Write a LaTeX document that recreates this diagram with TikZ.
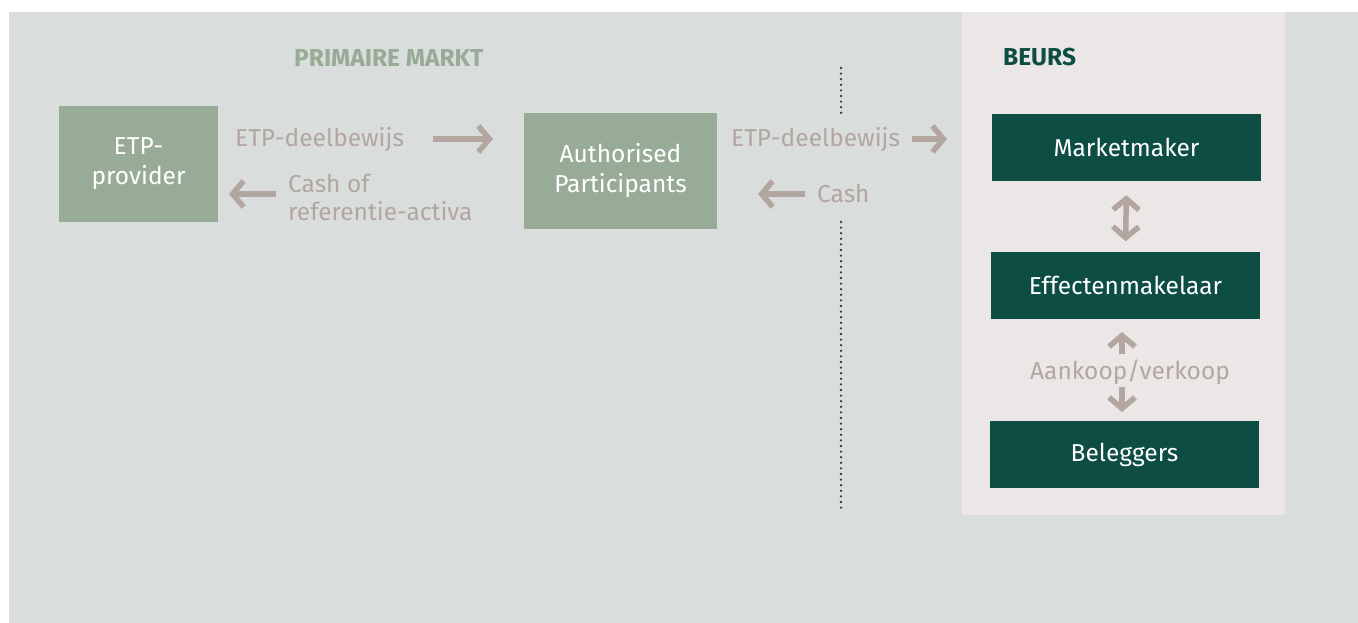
\documentclass[tikz,border=0pt]{standalone}
\usepackage{fontspec}
\setmainfont{Fira Sans}
\usetikzlibrary{arrows.meta}
\definecolor{bggray}{HTML}{D9DDDC}
\definecolor{panelbeige}{HTML}{EBE7E6}
\definecolor{boxgreen}{HTML}{98AB96}
\definecolor{darkgreen}{HTML}{0D4D44}
\definecolor{taupe}{HTML}{B3A6A0}
\definecolor{dotgray}{HTML}{2F3B40}

\begin{document}
\begin{tikzpicture}[x=1pt,y=-1pt,
  lightbox/.style={fill=boxgreen, text=white, align=center, inner sep=0pt,
    font=\fontsize{24.5}{30}\selectfont},
  darkbox/.style={fill=darkgreen, text=white, inner sep=0pt, minimum width=269pt,
    minimum height=67pt, font=\fontsize{24.5}{30}\selectfont},
  flowlabel/.style={text=taupe, inner sep=0pt, anchor=base west, align=left,
    font=\fontsize{24.5}{28}\selectfont},
  title/.style={inner sep=0pt, anchor=base west, font=\fontsize{24.5}{28}\selectfont\bfseries},
  flowarrow/.style={draw=taupe, line width=5.5pt, -{Straight Barb[length=11pt,width=26pt]}},
  divider/.style={draw=dotgray, line width=2.6pt, line cap=round, dash pattern=on 0pt off 5.6pt}]
\useasboundingbox (0,0) rectangle (1358,623);
\fill [bggray] (9,12) rectangle (1358,623);
\fill [panelbeige] (962,12) rectangle (1285,515);
% primaire markt
\node [title, text=boxgreen] (primair) at (294,67) {PRIMAIRE MARKT};
\node [lightbox, minimum width=159pt, minimum height=116pt] (provider) at (138.5,164) {ETP-\\provider};
\node [lightbox, minimum width=193pt, minimum height=116pt] (ap) at (620.5,171) {Authorised\\Participants};
\node [flowlabel] (deel1) at (235,147) {ETP-deelbewijs};
\node [flowlabel] (cashof) at (288,220) {Cash of\\referentie-activa};
\coordinate (r1a) at (433,139);
\coordinate (r1b) at (493,139);
\coordinate (l1a) at (276,194);
\coordinate (l1b) at (229,194);
\draw [flowarrow] (r1a) -- (r1b);
\draw [flowarrow] (l1a) -- (l1b);
% naar de beurs
\node [flowlabel] (deel2) at (731,147) {ETP-deelbewijs};
\node [flowlabel] (cash) at (817,203) {Cash};
\coordinate (r2a) at (912,139);
\coordinate (r2b) at (947,139);
\coordinate (l2a) at (805,194);
\coordinate (l2b) at (758,194);
\draw [flowarrow] (r2a) -- (r2b);
\draw [flowarrow] (l2a) -- (l2b);
\coordinate (d1a) at (841,68);
\coordinate (d1b) at (841,113);
\coordinate (d2a) at (841,222);
\coordinate (d2b) at (841,510);
\draw [divider] (d1a) -- (d1b);
\draw [divider] (d2a) -- (d2b);
% beurs
\node [title, text=darkgreen] (beurs) at (1003,66) {BEURS};
\node [darkbox] (mm) at (1126.5,147.5) {Marketmaker};
\node [darkbox] (em) at (1125.5,285) {Effectenmakelaar};
\node [darkbox] (bel) at (1124.5,454.5) {Beleggers};
\node [flowlabel, anchor=base] (koop) at (1130,379) {Aankoop/verkoop};
\coordinate (k1a) at (1122,354);
\coordinate (k1b) at (1122,332);
\coordinate (k2a) at (1122,387);
\coordinate (k2b) at (1122,412);
\draw [flowarrow, {Straight Barb[length=11pt,width=26pt]}-{Straight Barb[length=11pt,width=26pt]}, shorten <=14pt, shorten >=10pt] (mm.south) -- (em.north);
\draw [flowarrow] (k1a) -- (k1b);
\draw [flowarrow] (k2a) -- (k2b);
\end{tikzpicture}
\end{document}
